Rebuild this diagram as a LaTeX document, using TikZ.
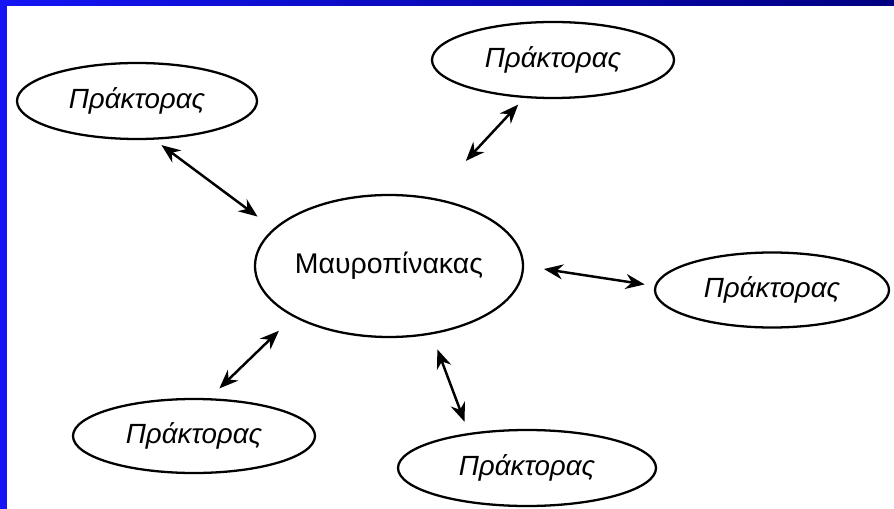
\documentclass[tikz,border=0pt]{standalone}
\usepackage{fontspec}
\setmainfont{Liberation Sans}
\usetikzlibrary{shapes.geometric,arrows.meta}
\definecolor{frameblue}{RGB}{20,20,245}
\definecolor{framenavy}{RGB}{0,0,128}
\tikzset{
	agent/.style={ellipse,draw,line width=0.65pt,inner sep=0pt,minimum width=2.42cm,minimum height=0.76cm,font=\fontsize{7.9}{9}\selectfont\itshape},
	board/.style={ellipse,draw,line width=0.65pt,inner sep=0pt,minimum width=2.68cm,minimum height=1.42cm,font=\fontsize{8.1}{9.7}\selectfont},
	link/.style={<->,line width=0.7pt}
}
\begin{document}
\begin{tikzpicture}[x=0.1cm,y=-0.1cm,line join=round,>={Stealth[length=1.9mm,width=1.5mm]}]
		\useasboundingbox (0,0) rectangle (89.4,50.9);
		\fill[white] (0,0) rectangle (89.4,50.9);
		\shade[left color=frameblue,right color=framenavy] (0,0) rectangle (89.4,0.6);
		\fill[frameblue] (0,0) rectangle (0.7,50.9);
		\node[board] (mid) at (38.9,26.6) {Μαυροπίνακας};
		\node[agent,minimum width=2.40cm] (tl) at (13.7,10.1) {Πράκτορας};
		\node[agent] (tr) at (55.3,6.0) {Πράκτορας};
		\node[agent,minimum width=2.34cm,minimum height=0.75cm] (rt) at (77.2,29.0) {Πράκτορας};
		\node[agent,minimum height=0.74cm] (bl) at (19.4,43.6) {Πράκτορας};
		\node[agent,minimum width=2.58cm] (bt) at (52.7,46.8) {Πράκτορας};
		\draw[link,shorten <=0.09cm,shorten >=0.2cm] (tl.-66) -- (mid.162);
		\draw[link,shorten <=0.09cm,shorten >=0.5cm] (tr.-127) -- (mid.58);
		\draw[link,shorten <=0.2cm,shorten >=0.1cm] (mid.0) -- (rt.178);
		\draw[link,shorten <=0.16cm,shorten >=0.12cm] (mid.-58) -- (bt.149);
		\draw[link,shorten <=0.2cm,shorten >=0.14cm] (mid.-152) -- (bl.68);
	\end{tikzpicture}
\end{document}
